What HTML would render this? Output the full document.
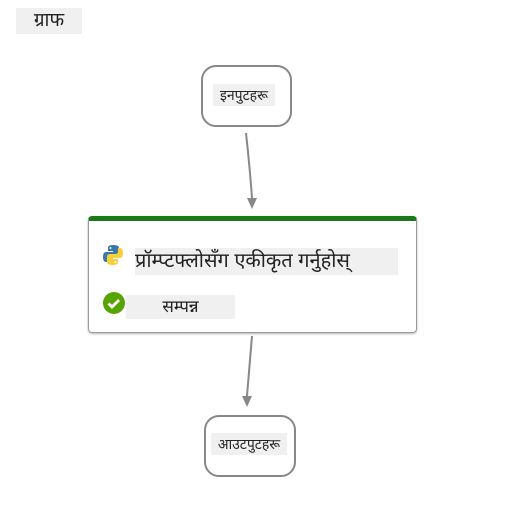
<!DOCTYPE html>
<html><head><meta charset="utf-8"><style>
body{margin:0;width:507px;height:505px;background:#fff;position:relative;font-family:"Liberation Sans","Noto Sans Devanagari","Lohit Devanagari",sans-serif;color:#222;overflow:hidden}
.a{position:absolute}
.hl{background:#f0f0f0}
</style></head><body>
<div class="a hl" style="left:16px;top:8px;width:66px;height:26px;font-size:19px;line-height:26px;text-align:center">ग्राफ</div>
<div class="a" style="left:201px;top:65px;width:87px;height:58px;border:2px solid #888;border-radius:15px"></div>
<div class="a hl" style="left:213px;top:84px;width:62px;height:22px;font-size:14px;line-height:22px;text-align:center;white-space:nowrap">इनपुटहरू</div>
<div class="a" style="left:204px;top:415px;width:88px;height:58px;border:2px solid #888;border-radius:15px"></div>
<div class="a hl" style="left:211px;top:433px;width:76px;height:22px;font-size:14px;line-height:22px;text-align:center;white-space:nowrap">आउटपुटहरू</div>
<svg class="a" style="left:0;top:0" width="507" height="505">
<path d="M246 133 Q250 170 252 198" stroke="#888" stroke-width="2" fill="none"/>
<polygon points="247,198 257,198 252,209" fill="#888"/>
<path d="M252 336 Q249 372 247 396" stroke="#888" stroke-width="2" fill="none"/>
<polygon points="242,396 252,396 247,407" fill="#888"/>
</svg>
<div class="a" style="left:88px;top:216px;width:327px;height:111px;border:1px solid #999;border-top:5px solid #1a7a1a;border-radius:4px;box-shadow:0 1px 2px rgba(0,0,0,.3)"></div>
<svg class="a" style="left:102px;top:244px" width="22" height="22" viewBox="0 0 22 22">
<path d="M11 1c-5 0-5 2-5 3v3h5v1H4c-2 0-3 2-3 5s1 5 3 5h2v-3c0-2 1-3 3-3h5c2 0 3-1 3-3V4c0-2-2-3-6-3z" fill="#3b77a8"/>
<path d="M11 21c5 0 5-2 5-3v-3h-5v-1h7c2 0 3-2 3-5s-1-5-3-5h-2v3c0 2-1 3-3 3H8c-2 0-3 1-3 3v5c0 2 2 3 6 3z" fill="#f7cf3d"/>
<circle cx="8.5" cy="4" r="1" fill="#fff"/><circle cx="13.5" cy="18" r="1" fill="#fff"/>
</svg>
<div class="a hl" style="left:135px;top:248px;width:263px;height:27px;font-size:20px;line-height:27px;white-space:nowrap;overflow:hidden">प्रॉम्प्टफ्लोसँग एकीकृत गर्नुहोस्</div>
<svg class="a" style="left:102px;top:291px" width="24" height="24"><circle cx="12" cy="12" r="11" fill="#57a300"/><path d="M6.5 12.5l3.5 3.5 7-7" stroke="#fff" stroke-width="2.8" fill="none"/></svg>
<div class="a hl" style="left:126px;top:295px;width:109px;height:24px;font-size:17px;line-height:24px;text-align:center">सम्पन्न</div>
</body></html>
